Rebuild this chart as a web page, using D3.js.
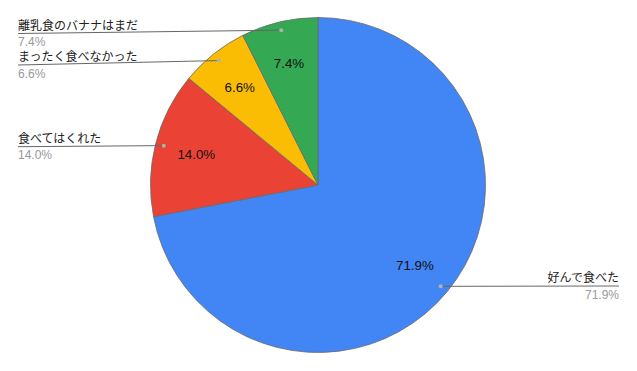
<!DOCTYPE html>
<html><head><meta charset="utf-8">
<script src="https://cdn.jsdelivr.net/npm/d3@7"></script>
<style>
html,body{margin:0;padding:0;background:#fff;}
svg{display:block;}
text{font-family:"Liberation Sans",Arial,"Noto Sans CJK JP",sans-serif;}
</style></head>
<body>
<svg id="chart" width="637" height="371"></svg>
<script>
const categories = ["好んで食べた","食べてはくれた","まったく食べなかった","離乳食のバナナはまだ"];
const values = [71.9, 14.0, 6.6, 7.4];
const colors = ["#4285F4","#EA4335","#FBBC04","#34A853"];
const labelTexts = ["71.9%","14.0%","6.6%","7.4%"];
// leader label line y positions (layout)
const labelLineY = [286, 146.7, 65, 33.5];

const W = 637, H = 371, cx = 318, cy = 185, r = 167.5;
const svg = d3.select("#chart");
const g = svg.append("g").attr("transform", `translate(${cx},${cy})`);

const pie = d3.pie().sort(null).value(d => d)(values);
const arc = d3.arc().innerRadius(0).outerRadius(r);
const labelArc = d3.arc().innerRadius(r*0.75).outerRadius(r*0.75);
const dotArc = d3.arc().innerRadius(r*0.95).outerRadius(r*0.95);

g.selectAll("path.slice").data(pie).enter().append("path")
  .attr("class","slice")
  .attr("d", arc)
  .attr("fill", (d,i) => colors[i])
  .attr("stroke", "#6b6b6b")
  .attr("stroke-width", 0.8);

g.selectAll("text.inner").data(pie).enter().append("text")
  .attr("class","inner")
  .attr("transform", d => `translate(${labelArc.centroid(d)})`)
  .attr("text-anchor","middle")
  .attr("dy","0.36em")
  .attr("font-size", 13.3)
  .attr("fill","#111")
  .text((d,i) => labelTexts[i]);

// leader lines & outside labels
pie.forEach((d,i) => {
  const [dx, dy] = dotArc.centroid(d);
  const px = cx + dx, py = cy + dy;
  const right = px > cx;
  const ex = right ? 619 : 18;
  const ly = labelLineY[i];
  svg.append("line")
    .attr("x1", px).attr("y1", py).attr("x2", ex).attr("y2", ly)
    .attr("stroke", "#666").attr("stroke-width", 1);
  svg.append("circle").attr("cx", px).attr("cy", py).attr("r", 2)
    .attr("fill", "#b0b0b0");
  svg.append("text")
    .attr("x", ex).attr("y", ly - 4)
    .attr("text-anchor", right ? "end" : "start")
    .attr("font-size", 12).attr("fill", "#222")
    .text(categories[i]);
  svg.append("text")
    .attr("x", ex).attr("y", ly + 12.5)
    .attr("text-anchor", right ? "end" : "start")
    .attr("font-size", 12).attr("fill", "#999")
    .text(values[i].toFixed(1) + "%");
});
</script>
</body></html>
